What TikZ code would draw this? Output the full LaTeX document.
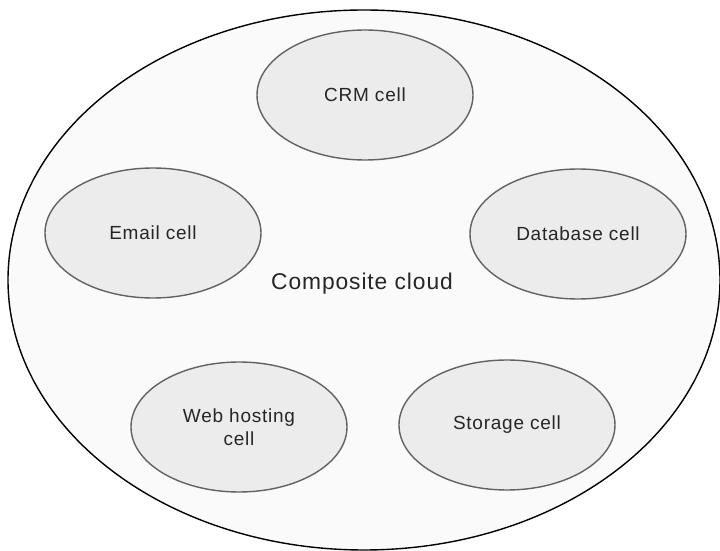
\documentclass[tikz,border=0pt]{standalone}
\usepackage{fontspec}
\setmainfont{Liberation Sans}[LetterSpace=4]
\usetikzlibrary{shapes.geometric}
\definecolor{cloudfill}{HTML}{FAFAFA}
\definecolor{cellfill}{HTML}{ECECEC}
\definecolor{celldraw}{HTML}{626262}
\tikzset{cell/.style={ellipse,draw=celldraw,fill=cellfill,line width=0.7pt,
                      minimum width=108pt,minimum height=65pt,inner sep=0pt,
                      align=center,text=black!85,font=\fontsize{9.5}{11.5}\selectfont}}

\begin{document}
\begin{tikzpicture}[x=0.5pt,y=-0.5pt]
    \useasboundingbox (0,0) rectangle (720,551);
    \node[ellipse,draw=black,fill=cloudfill,line width=0.7pt,minimum width=356pt,minimum height=270pt,
          inner sep=0pt] (cloud) at (364,280) {};
    \node[text=black!85,font=\fontsize{11.4}{13}\selectfont] (cloudlabel) at (362,284) {Composite cloud};
    \node[cell] (crm) at (365,95) {CRM cell};
    \node[cell] (email) at (153,233) {Email cell};
    \node[cell] (database) at (578,234) {Database cell};
    \node[cell] (webhost) at (239,427) {Web hosting\\cell};
    \node[cell] (storage) at (507,425) {Storage cell};
  \end{tikzpicture}
\end{document}
